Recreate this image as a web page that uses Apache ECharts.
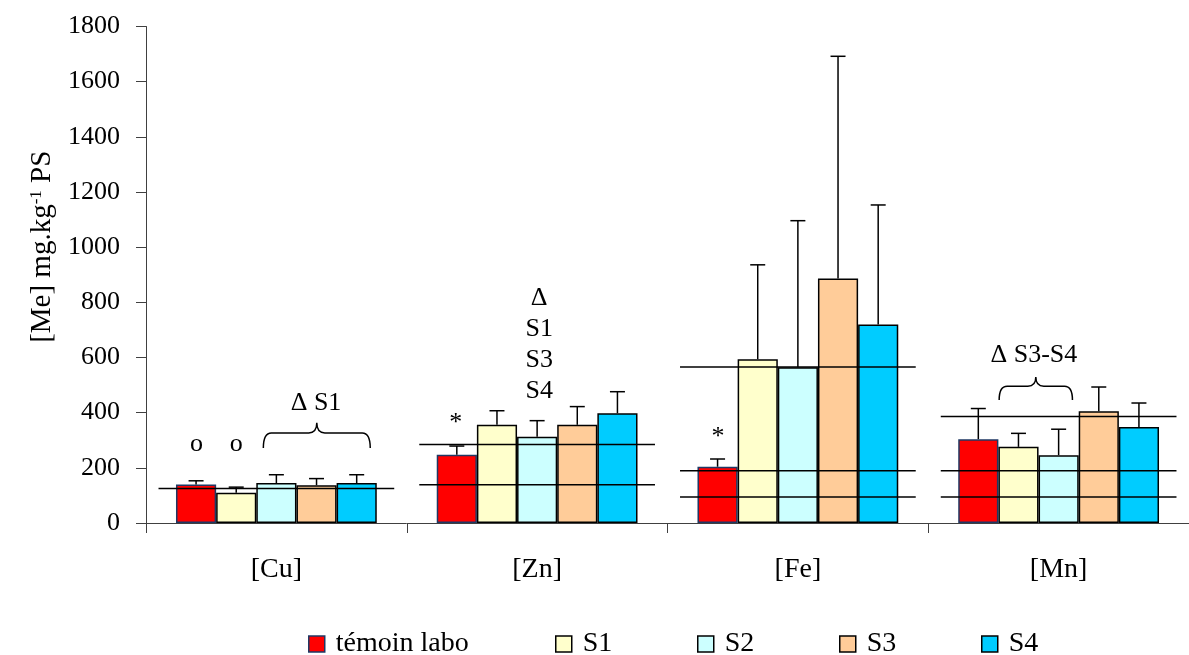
<!DOCTYPE html>
<html><head><meta charset="utf-8">
<script src="https://cdn.jsdelivr.net/npm/echarts@6/dist/echarts.min.js"></script>
<style>html,body{margin:0;padding:0;background:#fff}#c{width:1189px;height:655px}</style>
</head><body><div id="c"></div>
<script>
// ---- data ----
const categories = ['[Cu]', '[Zn]', '[Fe]', '[Mn]'];
const seriesNames = ['témoin labo', 'S1', 'S2', 'S3', 'S4'];
const temoin   = [140, 247, 204, 304];
const temoinSD = [13, 32, 28, 111];
const s1   = [110, 356, 594, 276];
const s1SD = [20, 51, 342, 49];
const s2   = [145, 313, 565, 246];
const s2SD = [30, 58, 531, 94];
const s3   = [137, 356, 886, 405];
const s3SD = [24, 66, 806, 88];
const s4   = [145, 398, 720, 348];
const s4SD = [30, 78, 433, 87];
// reference (horizontal) lines per element
const refCu = [125];
const refZn = [285, 139];
const refFe = [566, 189, 94];
const refMn = [386, 189, 94];
const yTicks = [0, 200, 400, 600, 800, 1000, 1200, 1400, 1600, 1800];

// ---- annotations (text at category + fraction of band, value) ----
const annotations = [
  {cat: 0, frac: -0.306, value: 286, text: 'o'},
  {cat: 0, frac: -0.154, value: 286, text: 'o'},
  {cat: 0, frac: 0.152, value: 435, text: 'Δ S1'},
  {cat: 1, frac: -0.312, value: 362, text: '*'},
  {cat: 1, frac: 0.008, value: 645, text: 'Δ\nS1\nS3\nS4'},
  {cat: 2, frac: -0.306, value: 312, text: '*'},
  {cat: 3, frac: -0.095, value: 609, text: 'Δ S3-S4'}
];
const braces = [
  {cat: 0, from: -0.05, to: 0.36, base: 272, tip: 363},
  {cat: 3, from: -0.228, to: 0.053, base: 446, tip: 529}
];

const FONT = '"Liberation Serif", "Times New Roman", serif';
const FS_TICK = 26;
const FS_BIG = 28;
const FS_ANN = 26;
const CAT_GAP = 0.23;
const colors = ['#FF0000', '#FFFFCC', '#CCFFFF', '#FFCC99', '#00CCFF'];
const borders = ['#1F3864', '#000', '#000', '#000', '#000'];
const means = [temoin, s1, s2, s3, s4];
const sds = [temoinSD, s1SD, s2SD, s3SD, s4SD];

const barSeries = seriesNames.map((n, i) => ({
  name: n, type: 'bar', data: means[i], barGap: '0%', barCategoryGap: (CAT_GAP * 100) + '%',
  itemStyle: {color: colors[i], borderColor: borders[i], borderWidth: 1.5},
  z: 2
}));

function errRender(sIdx) {
  return (params, api) => {
    const band = api.size([1, 0])[0];
    const bw = band * (1 - CAT_GAP) / 5;
    const base = api.coord([api.value(0), api.value(1)]);
    const top = api.coord([api.value(0), api.value(1) + api.value(2)]);
    const x = base[0] + (sIdx - 2) * bw;
    const st = {stroke: '#000', lineWidth: 1.5};
    return {type: 'group', children: [
      {type: 'line', shape: {x1: x, y1: base[1], x2: x, y2: top[1]}, style: st},
      {type: 'line', shape: {x1: x - 7.5, y1: top[1], x2: x + 7.5, y2: top[1]}, style: st}
    ]};
  };
}
const errSeries = seriesNames.map((n, i) => ({
  type: 'custom', name: 'err' + i, silent: true, clip: false, z: 3,
  data: categories.map((c, k) => [k, means[i][k], sds[i][k]]),
  renderItem: errRender(i)
}));

const refData = [];
[refCu, refZn, refFe, refMn].forEach((arr, k) => arr.forEach(v => refData.push([k, v])));
const refSeries = {
  type: 'custom', name: 'ref', silent: true, clip: false, z: 4, data: refData,
  renderItem: (params, api) => {
    const p = api.coord([api.value(0), api.value(1)]);
    const band = api.size([1, 0])[0];
    return {type: 'line', shape: {x1: p[0] - 0.452 * band, y1: p[1], x2: p[0] + 0.452 * band, y2: p[1]},
      style: {stroke: '#000', lineWidth: 1.5}};
  }
};

const annSeries = {
  type: 'custom', name: 'ann', silent: true, clip: false, z: 5,
  data: annotations.map(a => [a.cat, a.value]),
  renderItem: (params, api) => {
    const a = annotations[params.dataIndex];
    const p = api.coord([api.value(0), api.value(1)]);
    const band = api.size([1, 0])[0];
    return {type: 'text', x: p[0] + a.frac * band, y: p[1],
      style: {text: a.text, fill: '#000', font: FS_ANN + 'px ' + FONT, lineHeight: 31,
        align: 'center', verticalAlign: 'middle', textAlign: 'center', textVerticalAlign: 'middle'}};
  }
};

const braceSeries = {
  type: 'custom', name: 'brace', silent: true, clip: false, z: 5,
  data: braces.map(b => [b.cat, b.base, b.tip]),
  renderItem: (params, api) => {
    const b = braces[params.dataIndex];
    const band = api.size([1, 0])[0];
    const c = api.coord([api.value(0), api.value(1)]);
    const t = api.coord([api.value(0), api.value(2)]);
    const x1 = c[0] + b.from * band, x2 = c[0] + b.to * band, xm = (x1 + x2) / 2;
    const yb = c[1], yt = t[1], yh = yb + 0.6 * (yt - yb);
    const r = 8;
    const d = `M${x1},${yb} Q${x1},${yh} ${x1 + r},${yh} L${xm - r},${yh} Q${xm},${yh} ${xm},${yt} Q${xm},${yh} ${xm + r},${yh} L${x2 - r},${yh} Q${x2},${yh} ${x2},${yb}`;
    return {type: 'path', shape: {pathData: d}, style: {stroke: '#000', fill: null, lineWidth: 1.5}};
  }
};

const legendLefts = [303, 550, 692, 834, 976];
const legends = seriesNames.map((n, i) => ({
  data: [n], left: legendLefts[i], top: 625, icon: 'rect', itemWidth: 16, itemHeight: 16,
  selectedMode: false,
  itemStyle: {borderColor: borders[i], borderWidth: 1.5},
  textStyle: {fontFamily: FONT, fontSize: FS_BIG, color: '#000', padding: [0, 0, 0, 6]}
}));

const chart = echarts.init(document.getElementById('c'), null, {renderer: 'canvas'});
chart.setOption({
  animation: false,
  backgroundColor: '#fff',
  grid: {left: 146, right: -9, top: 26.5, bottom: 132, containLabel: false},
  legend: legends,
  xAxis: {
    type: 'category', data: categories,
    axisLine: {lineStyle: {color: '#404040', width: 1}},
    axisTick: {show: true, length: 10, lineStyle: {color: '#404040'}},
    axisLabel: {fontFamily: FONT, fontSize: FS_BIG, color: '#000', margin: 33},
    splitLine: {show: false}
  },
  yAxis: {
    type: 'value', min: yTicks[0], max: yTicks[yTicks.length - 1], interval: yTicks[1] - yTicks[0],
    name: '[Me] mg.kg{sup|-1} PS', nameLocation: 'middle', nameGap: 88,
    nameTextStyle: {fontFamily: FONT, fontSize: 29, color: '#000', padding: [0, 0, 0, 56],
      rich: {sup: {fontFamily: FONT, fontSize: 17, color: '#000', verticalAlign: 'top'}}},
    axisLine: {show: true, lineStyle: {color: '#404040', width: 1}},
    axisTick: {show: true, length: 10, lineStyle: {color: '#404040'}},
    axisLabel: {fontFamily: FONT, fontSize: FS_TICK, color: '#000', margin: 26, formatter: v => String(v)},
    splitLine: {show: false}
  },
  series: [...barSeries, ...errSeries, refSeries, annSeries, braceSeries]
});
</script></body></html>
